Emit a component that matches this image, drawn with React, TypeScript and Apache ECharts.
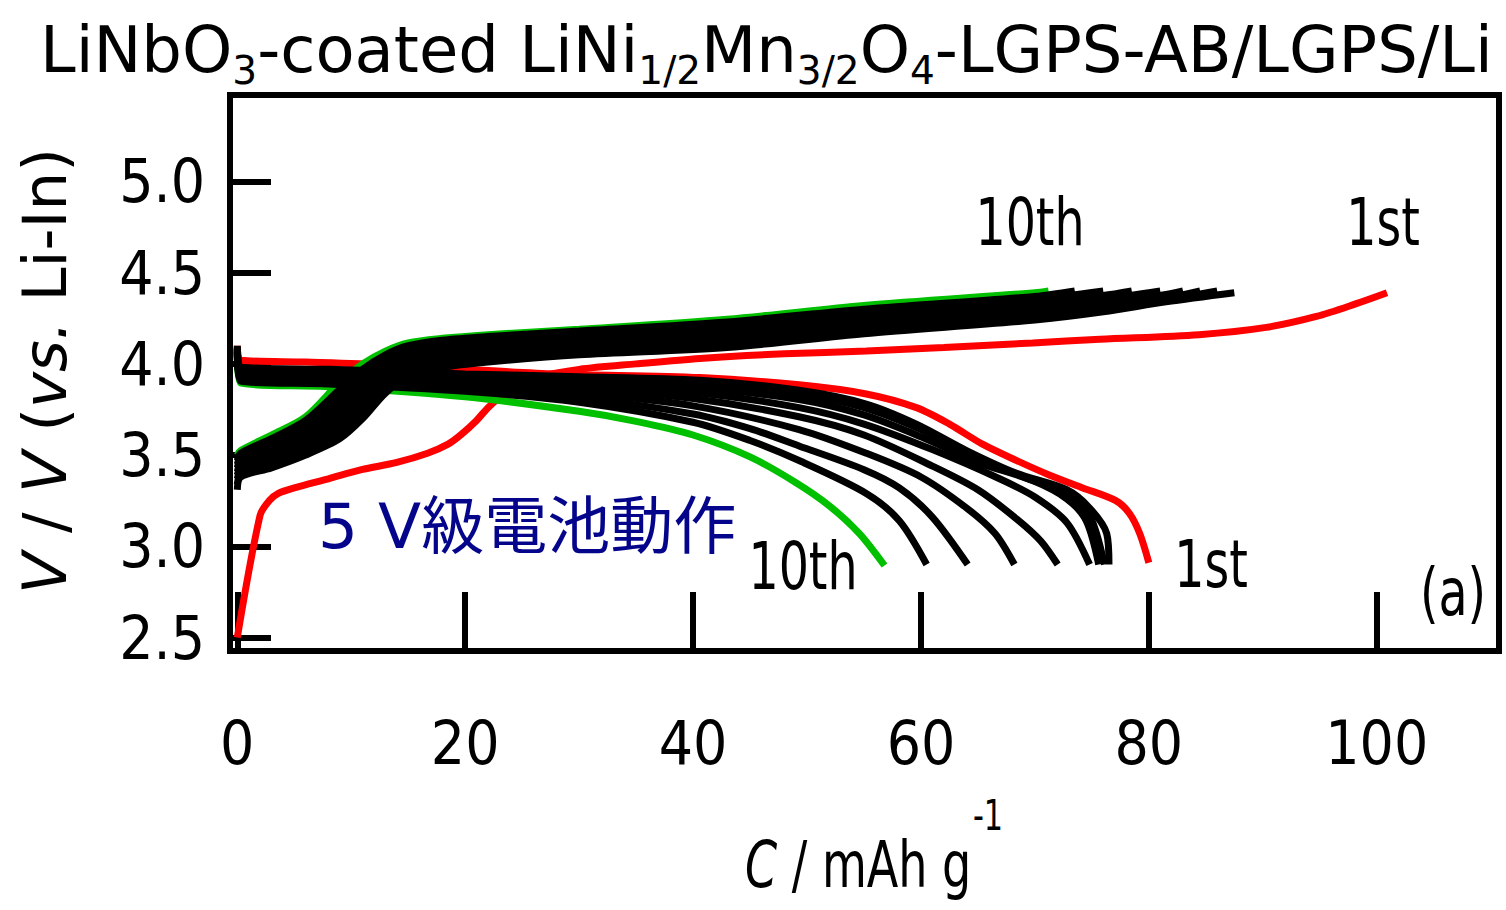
import React, { useEffect, useRef } from "react";
import * as echarts from "echarts";

// ---- axis ticks ----
const xTicks = [0, 20, 40, 60, 80, 100];
const yTicks = [2.5, 3.0, 3.5, 4.0, 4.5, 5.0];

// ---- 1st cycle (red) [capacity mAh/g, voltage V] ----
const charge1st = [[0, 2.5], [2.0, 3.17], [2.8, 3.25], [3.6, 3.29], [5, 3.32], [8, 3.37], [10.9, 3.42], [14, 3.46], [16.7, 3.51], [18.5, 3.56], [19.6, 3.61], [21, 3.69], [22, 3.76], [23.1, 3.82], [24.5, 3.88], [26.5, 3.93], [30, 3.97], [35, 4.0], [40.6, 4.03], [48, 4.055], [55.2, 4.07], [62, 4.09], [69.8, 4.115], [75.7, 4.135], [84.4, 4.16], [90.3, 4.2], [94.7, 4.26], [98.2, 4.33], [100.9, 4.39]];
const discharge1st = [[0, 4.1], [0.3, 4.02], [6, 4.01], [13, 3.995], [20, 3.97], [28, 3.945], [40.6, 3.925], [49.3, 3.885], [55.2, 3.835], [59.6, 3.76], [62.5, 3.67], [65.4, 3.56], [68.4, 3.47], [71.3, 3.39], [74.2, 3.32], [77.1, 3.25], [78.3, 3.18], [79.2, 3.07], [80, 2.91]];

// ---- 10th cycle (green) ----
const charge10th = [[0, 3.5], [0.3, 3.525], [3, 3.61], [6, 3.71], [9, 3.9], [11, 4.0], [13, 4.07], [15, 4.115], [18, 4.14], [22, 4.16], [30, 4.19], [43, 4.245], [55, 4.32], [70, 4.39], [71.2, 4.4]];
const discharge10th = [[0, 4.05], [0.3, 3.895], [8, 3.875], [20, 3.82], [30, 3.74], [35, 3.685], [40, 3.61], [45, 3.49], [49, 3.35], [52, 3.22], [54.6, 3.07], [56.8, 2.895]];

// ---- 2nd - 9th cycles (black) ----
const charge2nd = [[0, 3.31], [0.3, 3.38], [3, 3.43], [6, 3.5], [9, 3.59], [11, 3.7], [13, 3.84], [15, 3.93], [18, 3.98], [22, 4.01], [30, 4.05], [43, 4.09], [55, 4.165], [70, 4.24], [76, 4.285], [81.5, 4.34], [87.5, 4.39]];
const charge3rd = [[0, 3.34], [0.3, 3.395], [3, 3.455], [6, 3.525], [9, 3.62], [11, 3.745], [13, 3.87], [15, 3.955], [18, 4.005], [22, 4.035], [30, 4.07], [43, 4.11], [55, 4.185], [70, 4.255], [76, 4.3], [81.5, 4.35], [86, 4.4]];
const charge4th = [[0, 3.37], [0.3, 3.41], [3, 3.48], [6, 3.55], [9, 3.66], [11, 3.79], [13, 3.9], [15, 3.98], [18, 4.03], [22, 4.06], [30, 4.09], [43, 4.13], [55, 4.2], [70, 4.27], [76, 4.31], [81.5, 4.36], [84.5, 4.4]];
const charge5th = [[0, 3.39], [0.3, 3.43], [3, 3.5], [6, 3.58], [9, 3.7], [11, 3.83], [13, 3.94], [15, 4.01], [18, 4.06], [22, 4.085], [30, 4.12], [43, 4.16], [55, 4.225], [70, 4.29], [76, 4.33], [81.5, 4.38], [83, 4.4]];
const charge6th = [[0, 3.41], [0.3, 3.45], [3, 3.53], [6, 3.61], [9, 3.74], [11, 3.87], [13, 3.98], [15, 4.04], [18, 4.085], [22, 4.11], [30, 4.14], [43, 4.18], [55, 4.25], [70, 4.315], [76, 4.355], [81, 4.4]];
const charge7th = [[0, 3.43], [0.3, 3.47], [3, 3.55], [6, 3.63], [9, 3.78], [11, 3.91], [13, 4.01], [15, 4.07], [18, 4.105], [22, 4.125], [30, 4.155], [43, 4.2], [55, 4.27], [70, 4.335], [76, 4.375], [78.5, 4.4]];
const charge8th = [[0, 3.45], [0.3, 3.49], [3, 3.57], [6, 3.66], [9, 3.82], [11, 3.94], [13, 4.03], [15, 4.085], [18, 4.12], [22, 4.14], [30, 4.17], [43, 4.215], [55, 4.285], [70, 4.355], [76, 4.4]];
const charge9th = [[0, 3.47], [0.3, 3.51], [3, 3.59], [6, 3.69], [9, 3.86], [11, 3.97], [13, 4.05], [15, 4.1], [18, 4.13], [22, 4.15], [30, 4.18], [43, 4.23], [55, 4.3], [70, 4.37], [73.5, 4.4]];

const discharge2nd = [[0, 4.1], [0.3, 3.98], [8, 3.97], [20, 3.945], [30, 3.93], [40.6, 3.91], [49.3, 3.855], [55.2, 3.78], [59.6, 3.67], [64, 3.525], [68.4, 3.4], [72.8, 3.31], [74.8, 3.21], [76.3, 3.07], [76.5, 2.9]];
const discharge3rd = [[0, 4.09], [0.3, 3.965], [8, 3.955], [20, 3.93], [30, 3.915], [40, 3.89], [49.3, 3.835], [55, 3.76], [60, 3.64], [64.5, 3.5], [69, 3.38], [72.8, 3.29], [74.8, 3.17], [76.1, 2.9]];
const discharge4th = [[0, 4.085], [0.3, 3.955], [8, 3.945], [20, 3.92], [30, 3.9], [40, 3.87], [49.3, 3.805], [55, 3.72], [60, 3.6], [65, 3.46], [69.8, 3.36], [72.8, 3.26], [74.5, 3.14], [75.6, 2.9]];
const discharge5th = [[0, 4.08], [0.3, 3.945], [8, 3.935], [20, 3.905], [30, 3.885], [40, 3.845], [49.3, 3.76], [55, 3.67], [61, 3.53], [66.9, 3.37], [70, 3.27], [72.8, 3.13], [74.8, 2.9]];
const discharge6th = [[0, 4.075], [0.3, 3.935], [8, 3.925], [20, 3.895], [30, 3.865], [40, 3.81], [49.3, 3.71], [55, 3.61], [61, 3.44], [65, 3.31], [68.4, 3.15], [70.5, 3.03], [72, 2.9]];
const discharge7th = [[0, 4.07], [0.3, 3.925], [8, 3.91], [20, 3.88], [30, 3.84], [40, 3.77], [49.3, 3.64], [55.2, 3.51], [60, 3.38], [64, 3.21], [66.5, 3.07], [68.2, 2.9]];
const discharge8th = [[0, 4.065], [0.3, 3.915], [8, 3.9], [20, 3.865], [30, 3.815], [40, 3.725], [45, 3.645], [49.3, 3.55], [55, 3.42], [58.1, 3.32], [61, 3.16], [64.1, 2.9]];
const discharge9th = [[0, 4.06], [0.3, 3.905], [8, 3.89], [20, 3.85], [30, 3.79], [40, 3.68], [45, 3.58], [49.3, 3.47], [55.2, 3.29], [58.1, 3.14], [60.5, 2.9]];

const blackCurves = [
  charge2nd, charge3rd, charge4th, charge5th, charge6th, charge7th, charge8th, charge9th,
  discharge2nd, discharge3rd, discharge4th, discharge5th, discharge6th, discharge7th, discharge8th, discharge9th,
];

const NARROW = "'Liberation Sans Narrow', 'DejaVu Sans Condensed', sans-serif";
const WIDE = "'DejaVu Sans', Verdana, sans-serif";

function lineSeries(name: string, data: number[][], color: string) {
  return {
    name,
    type: "line",
    data,
    showSymbol: false,
    smooth: 0.3,
    lineStyle: { color, width: 7 },
    emphasis: { disabled: true },
  };
}

function note(text: string, x: number, y: number) {
  return {
    type: "text", x, y, scaleX: 0.8, silent: true,
    style: { text, fontSize: 66, fontFamily: NARROW, fill: "#000", align: "center", verticalAlign: "middle" },
  };
}

export default function App() {
  const ref = useRef<HTMLDivElement>(null);
  useEffect(() => {
    if (!ref.current) return;
    const chart = echarts.init(ref.current, undefined, { renderer: "svg" });
    const series: any[] = [
      lineSeries("1st charge", charge1st, "#ff0000"),
      lineSeries("1st discharge", discharge1st, "#ff0000"),
      lineSeries("10th charge", charge10th, "#00c000"),
      lineSeries("10th discharge", discharge10th, "#00c000"),
      ...blackCurves.map((d, i) => lineSeries("cycle " + i, d, "#000000")),
    ];
    chart.setOption({
      animation: false,
      backgroundColor: "#ffffff",
      grid: {
        left: 230, right: 7, top: 95, bottom: 259,
        show: true, borderColor: "#000", borderWidth: 6, backgroundColor: "transparent",
      },
      xAxis: {
        type: "value",
        min: -0.64,
        max: 110.73,
        axisLine: { show: false, onZero: false },
        splitLine: { show: false },
        axisTick: { show: true, inside: true, length: 59, lineStyle: { color: "#000", width: 6 }, customValues: xTicks },
        axisLabel: { customValues: xTicks, fontSize: 60, fontFamily: NARROW, color: "#000", margin: 62 },
      },
      yAxis: {
        type: "value",
        min: 2.426,
        max: 5.474,
        axisLine: { show: false, onZero: false },
        splitLine: { show: false },
        axisTick: { show: true, inside: true, length: 41, lineStyle: { color: "#000", width: 6 }, customValues: yTicks },
        axisLabel: { customValues: yTicks, fontSize: 60, fontFamily: NARROW, color: "#000", margin: 25, formatter: (v: number) => v.toFixed(1) },
      },
      graphic: [
        {
          type: "text", x: 40, y: 10, silent: true,
          style: {
            text: "{n|LiNbO}{s|3}{n|-coated LiNi}{s|1/2}{n|Mn}{s|3/2}{n|O}{s|4}{n|-LGPS-AB/LGPS/Li}",
            fill: "#000",
            verticalAlign: "top",
            rich: {
              n: { fontSize: 64, lineHeight: 80, fontFamily: WIDE, fill: "#000" },
              s: { fontSize: 39, lineHeight: 34, fontFamily: WIDE, verticalAlign: "bottom", fill: "#000" },
            },
          },
        },
        {
          type: "text", x: 44, y: 371, rotation: Math.PI / 2, silent: true,
          style: {
            text: "{i|V} / {i|V} ({i|vs.} Li-In)",
            align: "center", verticalAlign: "middle",
            fontSize: 61, fontFamily: WIDE, fill: "#000",
            rich: { i: { fontStyle: "italic", fontSize: 61, fontFamily: WIDE, fill: "#000" } },
          },
        },
        {
          type: "text", x: 745, y: 865, scaleX: 0.8, silent: true,
          style: {
            text: "{i|C}{n| / mAh g}",
            verticalAlign: "middle",
            rich: {
              i: { fontStyle: "italic", fontSize: 64, fontFamily: NARROW, fill: "#000" },
              n: { fontSize: 64, fontFamily: NARROW, fill: "#000" },
            },
          },
        },
        { type: "text", x: 988, y: 816, scaleX: 0.8, silent: true, style: { text: "-1", fontSize: 42, fontFamily: NARROW, fill: "#000", align: "center", verticalAlign: "middle" } },
        note("10th", 1030, 222),
        note("1st", 1383, 222),
        note("10th", 803, 566),
        note("1st", 1211, 564),
        note("(a)", 1453, 592),
        { type: "text", x: 318, y: 526, silent: true, style: { text: "5 V級電池動作", fontSize: 63, fontFamily: "'DejaVu Sans', 'Noto Sans CJK JP', sans-serif", fill: "#05058c", align: "left", verticalAlign: "middle" } },
      ],
      series,
    });
    return () => chart.dispose();
  }, []);
  return <div ref={ref} style={{ position: "fixed", left: 0, top: 0, width: 1506, height: 910 }} />;
}
